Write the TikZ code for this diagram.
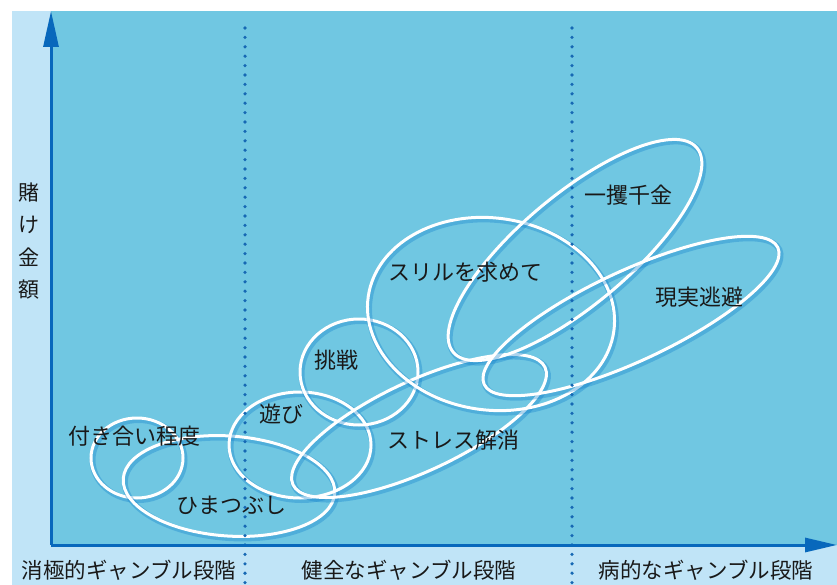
\documentclass[tikz,border=0pt]{standalone}
\usepackage{fontspec}
\setmainfont{Noto Sans CJK JP}
\usetikzlibrary{arrows.meta}
\definecolor{lightbg}{RGB}{192,228,247}
\definecolor{plotbg}{RGB}{112,199,226}
\definecolor{axisblue}{RGB}{8,104,188}
\definecolor{dotblue}{RGB}{22,104,180}
\definecolor{shadowblue}{RGB}{20,130,205}
\tikzset{
  lbl/.style={font=\fontsize{22}{26}\selectfont, text=black!90, inner sep=0pt},
  axislbl/.style={font=\fontsize{21.5}{25}\selectfont, text=black!90, inner sep=0pt},
  ringshadow/.style={draw=shadowblue, line width=6pt, opacity=0.35},
  ring/.style={draw=white, line width=3pt},
  axisline/.style={draw=axisblue, line width=3pt},
  sepline/.style={draw=dotblue, line width=3.6pt, line cap=round, dash pattern=on 0pt off 9.4pt}
}
\newcommand{\ringat}[5]{% cx, cy, rx, ry, angle
  \draw[ringshadow, rotate around={#5:(#1+1.5,#2+2)}] (#1+1.5,#2+2) ellipse [x radius=#3pt, y radius=#4pt];
  \draw[ring, rotate around={#5:(#1,#2)}] (#1,#2) ellipse [x radius=#3pt, y radius=#4pt];
}
\begin{document}
\begin{tikzpicture}[x=1pt,y=-1pt]
\useasboundingbox (0,0) rectangle (837,585);
\fill[white] (0,0) rectangle (837,585);
\fill[lightbg] (12,11) rectangle (837,585);
\fill[plotbg] (51,11) rectangle (837,545);

% rings
\ringat{137}{458}{46}{40}{0}
\ringat{229}{486}{106}{50}{-4}
\ringat{300}{445}{71}{53}{0}
\ringat{359}{372}{59}{53}{0}
\ringat{419}{426}{139}{45}{25}
\ringat{491}{314}{124}{96}{-8}
\ringat{575}{250}{159}{55}{40}
\ringat{631}{316}{162}{45}{25}

% separators
\coordinate (s1t) at (245,28);
\coordinate (s1b) at (245,585);
\coordinate (s2t) at (572,28);
\coordinate (s2b) at (572,585);
\draw[sepline] (s1t) -- (s1b);
\draw[sepline] (s2t) -- (s2b);

% axes
\coordinate (o) at (51,545);
\coordinate (ytip) at (51,11);
\coordinate (xtip) at (837,545);
\draw[axisline, -{Triangle[length=36pt,width=15pt]}] (o) -- (ytip);
\draw[axisline, -{Triangle[length=32pt,width=14pt]}] (o) -- (xtip);

% labels
\node[lbl] (tsukiai) at (134,436) {付き合い程度};
\node[lbl] (hima) at (231,505) {ひまつぶし};
\node[lbl] (asobi) at (281,414) {遊び};
\node[lbl] (chosen) at (336,360) {挑戦};
\node[lbl] (stress) at (453,440) {ストレス解消};
\node[lbl] (thrill) at (465,272) {スリルを求めて};
\node[lbl] (ikkaku) at (628,195) {一攫千金};
\node[lbl] (genjitsu) at (699,297) {現実逃避};

\node[axislbl] (st1) at (129,570) {消極的ギャンブル段階};
\node[axislbl] (st2) at (409,570) {健全なギャンブル段階};
\node[axislbl] (st3) at (706,570) {病的なギャンブル段階};
\node[axislbl, align=center, font=\fontsize{21}{32.5}\selectfont] (ylab) at (29,241) {賭\\け\\金\\額};
\end{tikzpicture}
\end{document}
